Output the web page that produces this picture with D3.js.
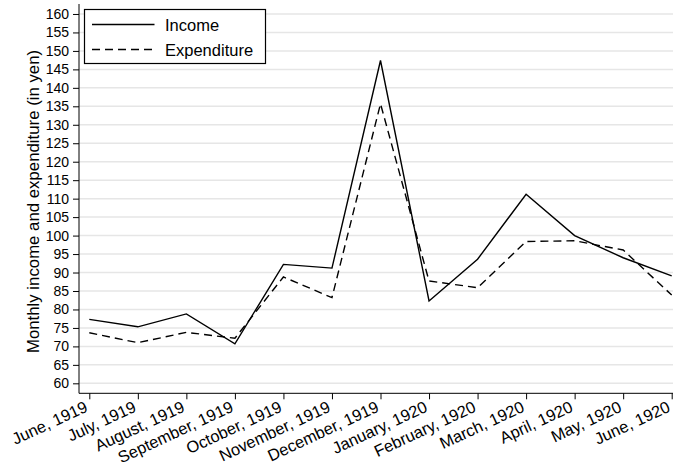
<!DOCTYPE html>
<html>
<head>
<meta charset="utf-8">
<script src="https://cdn.jsdelivr.net/npm/d3@7"></script>
<style>
  body { margin: 0; background: #fff; }
  text { font-family: "Liberation Sans", Arial, sans-serif; fill: #000; }
</style>
</head>
<body>
<div id="chart"></div>
<script>
// months on the x axis
const months = ["June, 1919", "July, 1919", "August, 1919", "September, 1919", "October, 1919",
  "November, 1919", "December, 1919", "January, 1920", "February, 1920", "March, 1920",
  "April, 1920", "May, 1920", "June, 1920"];

// monthly values in yen
const income = [77.3, 75.3, 78.8, 70.7, 92.2, 91.2, 147.4, 82.3, 93.6, 111.2, 100.0, 94.0, 89.1];
const expenditure = [73.7, 71.0, 73.8, 72.2, 88.8, 83.2, 135.7, 87.7, 85.9, 98.4, 98.6, 96.1, 83.9];

const yTicks = d3.range(60, 161, 5);

function drawChart() {
    let width = 673;
    let height = 468;

    const svg = d3.select("#chart")
    .append("svg")
    .attr("width", width)
    .attr("height", height)

    const x = d3.scalePoint()
    .domain(months)
    .range([89.3, 671.7])

    const y = d3.scaleLinear()
    .domain([57.3, 162.7])
    .range([393.3, 4])

    // grid lines
    svg.selectAll(".grid")
    .data(yTicks)
    .enter()
    .append("line")
    .attr("x1", 79)
    .attr("x2", width)
    .attr("y1", d => y(d))
    .attr("y2", d => y(d))
    .attr("stroke", "#e6e6e6")
    .attr("stroke-width", 1.5)

    // y axis
    const yAxis = svg.append("g")
    .attr("transform", "translate(79,0)")
    .call(d3.axisLeft(y).tickValues(yTicks).tickSize(6).tickPadding(4))
    yAxis.select(".domain").attr("stroke", "#000").attr("d", `M0,${y.range()[1]}V${y.range()[0]}`)
    yAxis.selectAll(".tick line").attr("stroke", "#000")
    yAxis.selectAll(".tick text").attr("font-size", 14).attr("font-family", "Liberation Sans, Arial, sans-serif")

    // x axis
    const xAxis = svg.append("g")
    .attr("transform", "translate(0,393.3)")
    .call(d3.axisBottom(x).tickSize(6))
    xAxis.select(".domain").attr("stroke", "#000").attr("d", `M79,0H${width}`)
    xAxis.selectAll(".tick line").attr("stroke", "#000")
    xAxis.selectAll(".tick text")
    .attr("font-size", 16.4)
    .attr("font-family", "Liberation Sans, Arial, sans-serif")
    .attr("text-anchor", "end")
    .attr("y", 0)
    .attr("dy", 0)
    .attr("transform", "translate(-1,17.5) rotate(-25)")

    // y axis title
    svg.append("text")
    .attr("transform", "translate(39,201.5) rotate(-90)")
    .attr("text-anchor", "middle")
    .attr("font-size", 16.8)
    .text("Monthly income and expenditure (in yen)")

    const line = d3.line()
    .x((d, i) => x(months[i]))
    .y(d => y(d))

    svg.append("path")
    .datum(income)
    .attr("d", line)
    .attr("fill", "none")
    .attr("stroke", "#000")
    .attr("stroke-width", 1.4)

    svg.append("path")
    .datum(expenditure)
    .attr("d", line)
    .attr("fill", "none")
    .attr("stroke", "#000")
    .attr("stroke-width", 1.4)
    .attr("stroke-dasharray", "8,5")

    // legend
    const legend = svg.append("g")
    legend.append("rect")
    .attr("x", 84.5)
    .attr("y", 9.5)
    .attr("width", 181)
    .attr("height", 54)
    .attr("fill", "#fff")
    .attr("stroke", "#000")
    .attr("stroke-width", 1.2)

    const items = [["Income", null], ["Expenditure", "8,5"]];
    items.forEach((item, i) => {
        legend.append("line")
        .attr("x1", 92)
        .attr("x2", 154.5)
        .attr("y1", 24.5 + i * 25)
        .attr("y2", 24.5 + i * 25)
        .attr("stroke", "#000")
        .attr("stroke-width", 1.4)
        .attr("stroke-dasharray", item[1])
        legend.append("text")
        .attr("x", 165)
        .attr("y", 30.5 + i * 25)
        .attr("font-size", 16.5)
        .text(item[0])
    })
}

drawChart();
</script>
</body>
</html>
